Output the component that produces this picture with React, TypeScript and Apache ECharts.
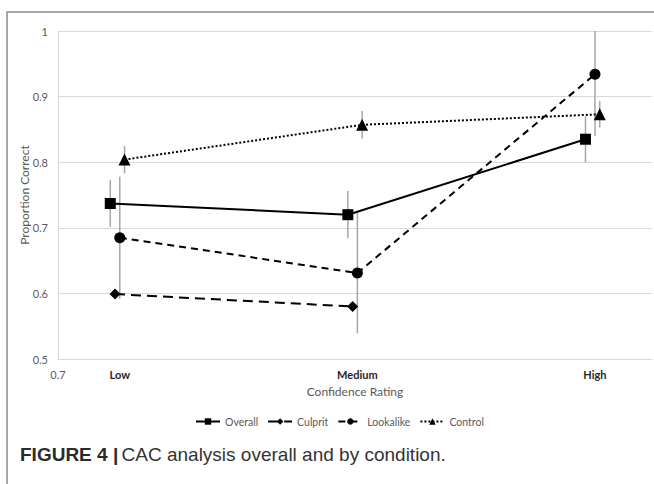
import React, { useEffect, useRef } from "react";
import * as echarts from "echarts";

// Level labels shown on the x axis
const levelLabels = ["Low", "Medium", "High"];
const levelLabelX = [0.96, 1.96, 2.96];

// Series data (x position, proportion correct, error half-width)
const overallX = [0.92, 1.92, 2.92];
const overallY = [0.737, 0.72, 0.835];
const overallErr = [0.036, 0.036, 0.035];

const culpritX = [0.94, 1.94];
const culpritY = [0.599, 0.58];

const lookalikeX = [0.96, 1.96, 2.96];
const lookalikeY = [0.685, 0.631, 0.934];
const lookalikeErr = [0.093, 0.092, 0.094];

const controlX = [0.98, 1.98, 2.98];
const controlY = [0.804, 0.857, 0.873];
const controlErr = [0.021, 0.021, 0.02];

const Y_MIN = 0.5;
const Y_MAX = 1;
const X_MIN = 0.7;
const X_MAX = 3.2;

const FONT = "Lato";

const pairs = (xs: number[], ys: number[]) => xs.map((x, i) => [x, ys[i]]);
const triples = (xs: number[], ys: number[], es: number[]) =>
  xs.map((x, i) => [x, ys[i], es[i]]);

export default function App() {
  const ref = useRef<HTMLDivElement>(null);

  useEffect(() => {
    if (!ref.current) return;
    const chart = echarts.init(ref.current, null, { renderer: "svg" });

    const errorSeries = (name: string, data: number[][]) => ({
      type: "custom",
      name,
      z: 1,
      clip: true,
      silent: true,
      data,
      encode: { x: 0, y: 1 },
      renderItem: (params: any, api: any) => {
        const x = api.value(0);
        const y = api.value(1);
        const e = api.value(2);
        const top = api.coord([x, Math.min(y + e, Y_MAX)]);
        const bot = api.coord([x, Math.max(y - e, Y_MIN)]);
        return {
          type: "line",
          shape: { x1: top[0], y1: top[1], x2: bot[0], y2: bot[1] },
          style: { stroke: "#a6a6a6", lineWidth: 1.5 },
        };
      },
    });

    const labelMap: Record<number, string> = {};
    levelLabelX.forEach((x, i) => {
      labelMap[Math.round(x * 100)] = levelLabels[i];
    });

    chart.setOption({
      animation: false,
      backgroundColor: "#ffffff",
      grid: { left: 58, right: 2, top: 31, bottom: 125, containLabel: false },
      legend: {
        left: 190,
        top: 411,
        itemWidth: 24,
        itemHeight: 8,
        itemGap: 9,
        data: ["Overall", "Culprit", "Lookalike", "Control"],
        textStyle: { fontFamily: FONT, fontSize: 10.5, color: "#595959" },
      },
      xAxis: {
        type: "value",
        min: X_MIN,
        max: X_MAX,
        interval: 0.02,
        name: "Confidence Rating",
        nameLocation: "middle",
        nameGap: 26,
        nameMoveOverlap: false,
        nameTextStyle: { fontFamily: FONT, fontSize: 12, color: "#595959" },
        axisLine: { show: true, lineStyle: { color: "#d9d9d9", width: 1 } },
        axisTick: { show: false },
        splitLine: { show: false },
        axisLabel: {
          margin: 10,
          fontFamily: FONT,
          fontSize: 11,
          color: "#595959",
          showMinLabel: true,
          showMaxLabel: false,
          formatter: (v: number) => {
            const k = Math.round(v * 100);
            if (k === Math.round(X_MIN * 100)) return "0.7";
            if (labelMap[k]) return "{b|" + labelMap[k] + "}";
            return "";
          },
          rich: {
            b: { fontFamily: FONT, fontSize: 11, fontWeight: "bold", color: "#262626" },
          },
        },
      },
      yAxis: {
        type: "value",
        min: Y_MIN,
        max: Y_MAX,
        interval: 0.1,
        name: "Proportion Correct",
        nameLocation: "middle",
        nameGap: 28,
        nameMoveOverlap: false,
        nameTextStyle: { fontFamily: FONT, fontSize: 12, color: "#595959" },
        axisLine: { show: true, lineStyle: { color: "#d9d9d9", width: 1 } },
        axisTick: { show: false },
        splitLine: { show: true, lineStyle: { color: "#d9d9d9", width: 1 } },
        axisLabel: {
          margin: 10,
          fontFamily: FONT,
          fontSize: 11,
          color: "#595959",
          formatter: (v: number) => String(Math.round(v * 10) / 10),
        },
      },
      graphic: [
        {
          type: "rect",
          silent: true,
          shape: { x: 7, y: 12, width: 700, height: 600 },
          style: { fill: "none", stroke: "#8c8c8c", lineWidth: 1.5 },
        },
        {
          type: "text",
          left: 20,
          top: 445,
          style: {
            text: "{b|FIGURE 4 |} {n|CAC analysis overall and by condition.}",
            rich: {
              b: {
                fontFamily: "Liberation Sans",
                fontWeight: "bold",
                fontSize: 19,
                fill: "#2b2b2b",
              },
              n: {
                fontFamily: "Liberation Sans",
                fontSize: 19,
                fill: "#333333",
              },
            },
          },
        },
      ],
      series: [
        errorSeries("OverallErr", triples(overallX, overallY, overallErr)),
        errorSeries("LookalikeErr", triples(lookalikeX, lookalikeY, lookalikeErr)),
        errorSeries("ControlErr", triples(controlX, controlY, controlErr)),
        {
          type: "line",
          name: "Overall",
          z: 3,
          data: pairs(overallX, overallY),
          symbol: "rect",
          symbolSize: 11,
          itemStyle: { color: "#000000" },
          lineStyle: { color: "#000000", width: 2, type: "solid" },
        },
        {
          type: "line",
          name: "Culprit",
          z: 3,
          data: pairs(culpritX, culpritY),
          symbol: "diamond",
          symbolSize: 11,
          itemStyle: { color: "#000000" },
          lineStyle: { color: "#000000", width: 2, type: [10, 6] },
        },
        {
          type: "line",
          name: "Lookalike",
          z: 3,
          data: pairs(lookalikeX, lookalikeY),
          symbol: "circle",
          symbolSize: 11,
          itemStyle: { color: "#000000" },
          lineStyle: { color: "#000000", width: 2, type: [7, 5] },
        },
        {
          type: "line",
          name: "Control",
          z: 3,
          data: pairs(controlX, controlY),
          symbol: "triangle",
          symbolSize: 12,
          itemStyle: { color: "#000000" },
          lineStyle: { color: "#000000", width: 2, type: [2, 2] },
        },
      ],
    });

    return () => chart.dispose();
  }, []);

  return (
    <div
      ref={ref}
      style={{ position: "fixed", left: 0, top: 0, width: 654, height: 484 }}
    />
  );
}
